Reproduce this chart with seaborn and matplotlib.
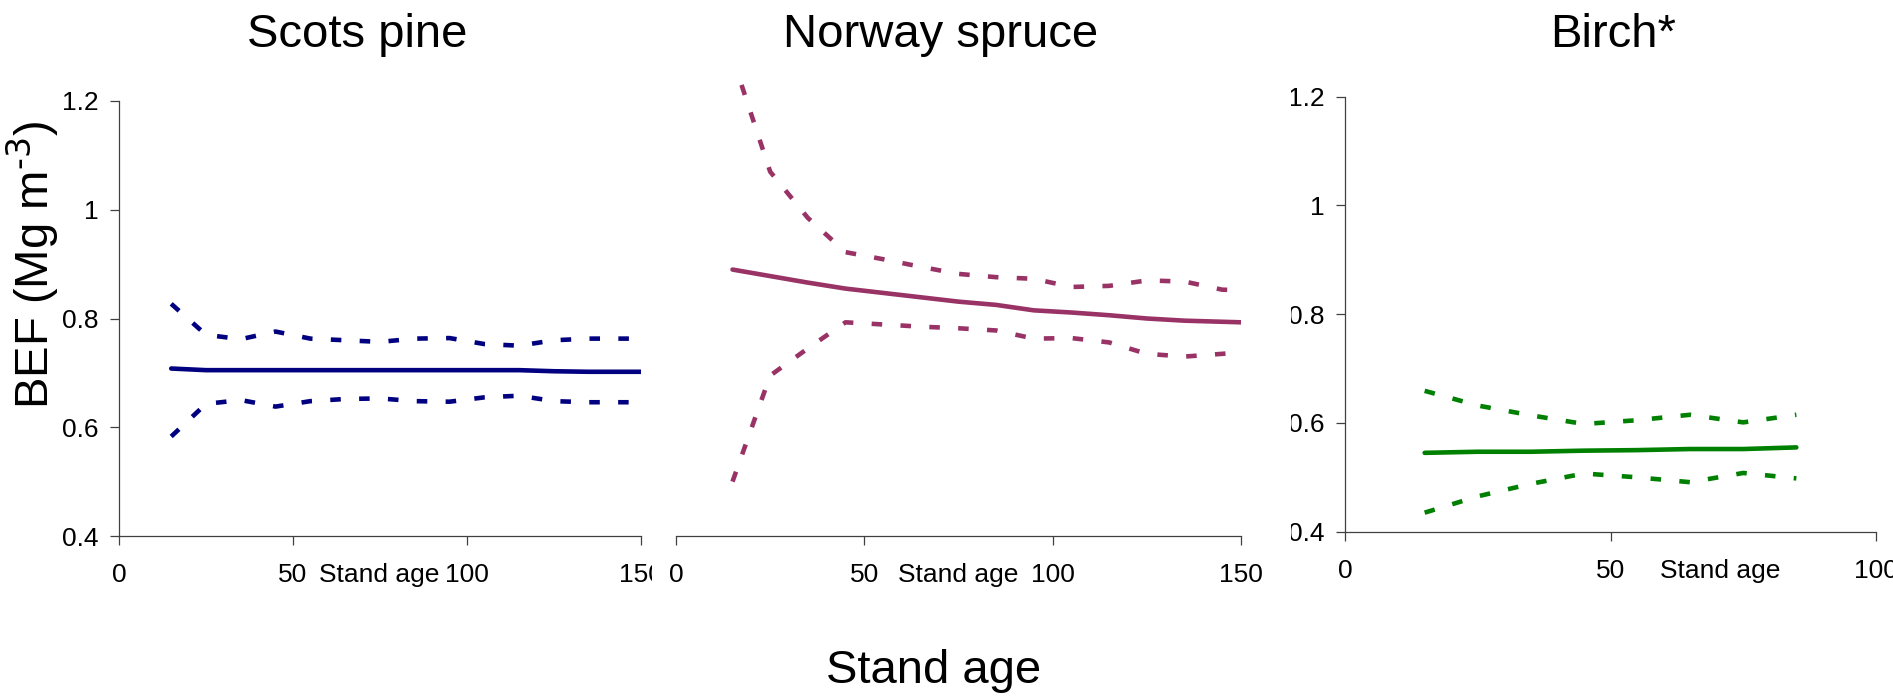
import matplotlib
matplotlib.use("Agg")
import matplotlib.pyplot as plt
import seaborn as sns
import pandas as pd
from matplotlib.patches import Rectangle

# ---------------- data ----------------
ages_conifer = [15, 25, 35, 45, 55, 65, 75, 85, 95, 105, 115, 125, 135, 145, 150]
pine_mean  = [0.708, 0.705, 0.705, 0.705, 0.705, 0.705, 0.705, 0.705, 0.705, 0.705, 0.705, 0.703, 0.702, 0.702, 0.702]
pine_upper = [0.827, 0.770, 0.762, 0.776, 0.763, 0.760, 0.757, 0.763, 0.764, 0.753, 0.750, 0.760, 0.763, 0.763, 0.763]
pine_lower = [0.583, 0.643, 0.650, 0.638, 0.648, 0.652, 0.653, 0.648, 0.647, 0.655, 0.658, 0.648, 0.646, 0.646, 0.646]

spruce_mean  = [0.890, 0.878, 0.866, 0.855, 0.847, 0.839, 0.831, 0.825, 0.815, 0.811, 0.806, 0.800, 0.796, 0.794, 0.793]
spruce_upper = [1.280, 1.070, 0.985, 0.922, 0.909, 0.895, 0.882, 0.876, 0.873, 0.858, 0.860, 0.870, 0.868, 0.853, 0.852]
spruce_lower = [0.500, 0.695, 0.745, 0.793, 0.789, 0.785, 0.782, 0.778, 0.763, 0.764, 0.756, 0.735, 0.730, 0.735, 0.738]

ages_birch  = [15, 25, 35, 45, 55, 65, 75, 85]
birch_mean  = [0.545, 0.547, 0.547, 0.549, 0.550, 0.552, 0.552, 0.555]
birch_upper = [0.659, 0.632, 0.614, 0.598, 0.605, 0.615, 0.601, 0.615]
birch_lower = [0.435, 0.465, 0.488, 0.507, 0.500, 0.491, 0.508, 0.498]

titles = ["Scots pine", "Norway spruce", "Birch*"]
colors = ["#000080", "#993366", "#008000"]
yticks = [0.4, 0.6, 0.8, 1.0, 1.2]
ytick_labels = ["0.4", "0.6", "0.8", "1", "1.2"]
xticks_conifer = [0, 50, 100, 150]
xticks_birch = [0, 50, 100]

# ---------------- style ----------------
sns.set_theme(style="white")
plt.rcParams["font.family"] = ["Liberation Sans", "DejaVu Sans"]
plt.rcParams["mathtext.default"] = "regular"
plt.rcParams["text.color"] = "black"

W, H = 1893, 699
fig = plt.figure(figsize=(W / 100, H / 100), dpi=100)
fig.patch.set_facecolor("white")


def add_ax(x0, x1, ybot, ytop):
    return fig.add_axes([x0 / W, 1 - ybot / H, (x1 - x0) / W, (ybot - ytop) / H])


ax1 = add_ax(119, 641, 536, 101)
ax2 = add_ax(676, 1241, 536, 84)
ax3 = add_ax(1345, 1876, 531.7, 96.6)

axis_col = "#404040"
lw = 3.3
dash = (0, (2.3, 4.0))
tick_fs = 19

panels = [
    (ax1, ages_conifer, pine_mean, pine_upper, pine_lower, colors[0]),
    (ax2, ages_conifer, spruce_mean, spruce_upper, spruce_lower, colors[1]),
    (ax3, ages_birch, birch_mean, birch_upper, birch_lower, colors[2]),
]

for ax, ages, m, u, l, c in panels:
    df = pd.DataFrame({"age": ages, "mean": m, "upper": u, "lower": l})
    sns.lineplot(data=df, x="age", y="mean", ax=ax, color=c, linewidth=lw,
                 estimator=None, solid_capstyle="round")
    for col in ["upper", "lower"]:
        sns.lineplot(data=df, x="age", y=col, ax=ax, color=c, linewidth=lw,
                     estimator=None, linestyle=dash, dash_capstyle="butt")
    ax.set_facecolor("none")
    ax.grid(False)
    ax.set_xlabel("")
    ax.set_ylabel("")
    for s in ["top", "right"]:
        ax.spines[s].set_visible(False)
    for s in ["left", "bottom"]:
        ax.spines[s].set_color(axis_col)
        ax.spines[s].set_linewidth(0.9)
    ax.tick_params(direction="out", length=6.5, width=0.9, color=axis_col,
                   labelsize=tick_fs, labelcolor="black",
                   bottom=True, left=True)
    ax.tick_params(axis="x", pad=13)
    ax.tick_params(axis="y", pad=8)

ax1.set_xlim(0, 150)
ax1.set_ylim(0.4, 1.2)
ax1.set_xticks(xticks_conifer)
ax1.set_yticks(yticks)
ax1.set_yticklabels(ytick_labels)

ax2.set_xlim(0, 150)
ax2.set_ylim(0.4, 0.4 + 452 * 0.8 / 435)
ax2.set_xticks(xticks_conifer)
ax2.spines["left"].set_visible(False)
ax2.tick_params(left=False, labelleft=False)

ax3.set_xlim(0, 100)
ax3.set_ylim(0.4, 1.2)
ax3.set_xticks(xticks_birch)
ax3.set_yticks(yticks)
ax3.set_yticklabels(ytick_labels)

# small in-axis "Stand age" labels at tick-label level
for ax, frac in [(ax1, 0.498), (ax2, 0.499), (ax3, 0.706)]:
    ax.annotate("Stand age", xy=(frac, 0), xycoords="axes fraction",
                xytext=(0, -19.5), textcoords="offset points",
                ha="center", va="top", fontsize=tick_fs, color="black")

# clipping artefacts of the original chart objects
fig.patches.append(Rectangle((652 / W, 1 - 600 / H), 14 / W, 50 / H,
                             transform=fig.transFigure, facecolor="white",
                             edgecolor="none", zorder=10))
fig.patches.append(Rectangle((1270 / W, 1 - 545 / H), 21 / W, 465 / H,
                             transform=fig.transFigure, facecolor="white",
                             edgecolor="none", zorder=10))

# titles
for t, cx in zip(titles, [357, 941, 1613]):
    fig.text(cx / W, 1 - 47 / H, t, ha="center", va="baseline", fontsize=34,
             color="black")

fig.text(934 / W, 1 - 683 / H, "Stand age", ha="center", va="baseline",
         fontsize=34, color="black")
fig.text(49 / W, 1 - 265 / H, r"BEF (Mg m$^{\text{-3}}$)", rotation=90,
         rotation_mode="anchor", ha="center", va="baseline", fontsize=34,
         color="black")

fig.savefig("out.png", dpi=100, facecolor="white")
